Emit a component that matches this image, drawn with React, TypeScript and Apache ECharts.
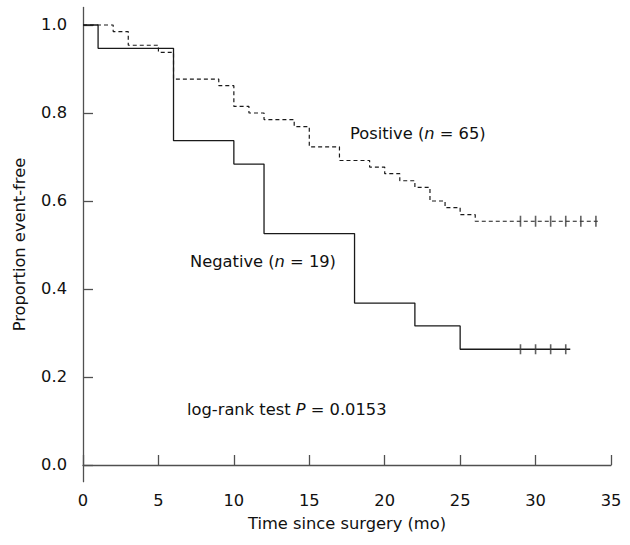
import React, { useEffect, useRef } from "react";
import * as echarts from "echarts";

// Kaplan-Meier curves (time in months, proportion event-free)
const negTimes = [0, 1, 6, 10, 12, 18, 22, 25, 32.3];
const negValues = [1, 0.947, 0.737, 0.684, 0.526, 0.368, 0.316, 0.263, 0.263];
const negCensorTimes = [29, 30, 31, 32];
const negCensorValue = 0.263;

const posTimes = [0, 2, 3, 5, 6, 9, 10, 11, 12, 14, 15, 17, 19, 20, 21, 22, 23, 24, 25, 26, 34.3];
const posValues = [1, 0.985, 0.954, 0.938, 0.877, 0.862, 0.815, 0.8, 0.785, 0.769, 0.723, 0.692, 0.677, 0.662, 0.646, 0.631, 0.6, 0.585, 0.569, 0.554, 0.554];
const posCensorTimes = [29, 30, 31, 32, 33, 34];
const posCensorValue = 0.554;

const yTickValues = [0, 0.2, 0.4, 0.6, 0.8, 1.0];
const xTickLabels = ["0", "5", "10", "15", "20", "25", "30", "35"];

const FONT = "'DejaVu Sans', Verdana, sans-serif";
const FS = 16.3;
const LINE = "#1a1a1a";
const AXIS = "#505050";

export default function App() {
  const ref = useRef<HTMLDivElement>(null);
  useEffect(() => {
    document.body.style.margin = "0";
    if (!ref.current) return;
    const chart = echarts.init(ref.current, undefined, { renderer: "svg" });
    const neg = negTimes.map((t, i) => [t, negValues[i]]);
    const pos = posTimes.map((t, i) => [t, posValues[i]]);
    const negC = negCensorTimes.map((t) => [t, negCensorValue]);
    const posC = posCensorTimes.map((t) => [t, posCensorValue]);
    const textStyle = { fontFamily: FONT, fontSize: FS, fill: "#111" };
    const rich = {
      a: { fontFamily: FONT, fontSize: FS, color: "#111" },
      i: { fontFamily: FONT, fontSize: FS, color: "#111", fontStyle: "italic" as const },
    };
    chart.setOption({
      animation: false,
      backgroundColor: "#fff",
      grid: { left: 83, right: 19, top: 7.4, bottom: 63.3, containLabel: false },
      xAxis: {
        type: "value",
        min: 0,
        max: 35,
        interval: 5,
        name: "Time since surgery (mo)",
        nameLocation: "middle",
        nameGap: 34,
        nameTextStyle: { fontFamily: FONT, fontSize: FS, color: "#111" },
        axisLine: { show: true, lineStyle: { color: AXIS, width: 1.3 } },
        axisTick: { show: true, inside: true, length: 10, lineStyle: { color: AXIS, width: 1.3 } },
        axisLabel: {
          margin: 11,
          fontFamily: FONT,
          fontSize: FS,
          color: "#111",
          formatter: (v: number) => xTickLabels[Math.round(v / 5)] ?? String(v),
        },
        splitLine: { show: false },
      },
      yAxis: {
        type: "value",
        min: -0.038,
        max: 1.04,
        name: "Proportion event-free",
        nameLocation: "middle",
        nameGap: 56,
        nameRotate: 90,
        nameTextStyle: { fontFamily: FONT, fontSize: FS, color: "#111" },
        axisLine: { show: true, lineStyle: { color: AXIS, width: 1.3 } },
        axisTick: {
          show: true,
          inside: true,
          length: 10,
          customValues: yTickValues,
          lineStyle: { color: AXIS, width: 1.3 },
        },
        axisLabel: {
          margin: 16,
          fontFamily: FONT,
          fontSize: FS,
          color: "#111",
          customValues: yTickValues,
          formatter: (v: number) => v.toFixed(1),
        },
        splitLine: { show: false },
      },
      series: [
        {
          type: "line",
          name: "Negative",
          step: "end",
          data: neg,
          symbol: "none",
          lineStyle: { color: LINE, width: 1.3, type: "solid" },
          z: 3,
        },
        {
          type: "line",
          name: "Positive",
          step: "end",
          data: pos,
          symbol: "none",
          lineStyle: { color: LINE, width: 1.2, type: [4, 3] },
          z: 2,
        },
        {
          type: "scatter",
          name: "Negative censored",
          data: negC,
          symbol: "rect",
          symbolSize: [1.6, 10],
          itemStyle: { color: "#3a3a3a" },
          z: 4,
        },
        {
          type: "scatter",
          name: "Positive censored",
          data: posC,
          symbol: "rect",
          symbolSize: [1.6, 11],
          itemStyle: { color: "#3a3a3a" },
          z: 4,
        },
      ],
      graphic: [
        {
          type: "text",
          x: 350,
          y: 133,
          style: { ...textStyle, text: "{a|Positive (}{i|n}{a| = 65)}", rich, verticalAlign: "middle" },
        },
        {
          type: "text",
          x: 190,
          y: 261,
          style: { ...textStyle, text: "{a|Negative (}{i|n}{a| = 19)}", rich, verticalAlign: "middle" },
        },
        {
          type: "text",
          x: 187,
          y: 409,
          style: { ...textStyle, text: "{a|log-rank test }{i|P}{a| = 0.0153}", rich, verticalAlign: "middle" },
        },
      ],
    });
    return () => chart.dispose();
  }, []);
  return <div ref={ref} style={{ width: 630, height: 545 }} />;
}
